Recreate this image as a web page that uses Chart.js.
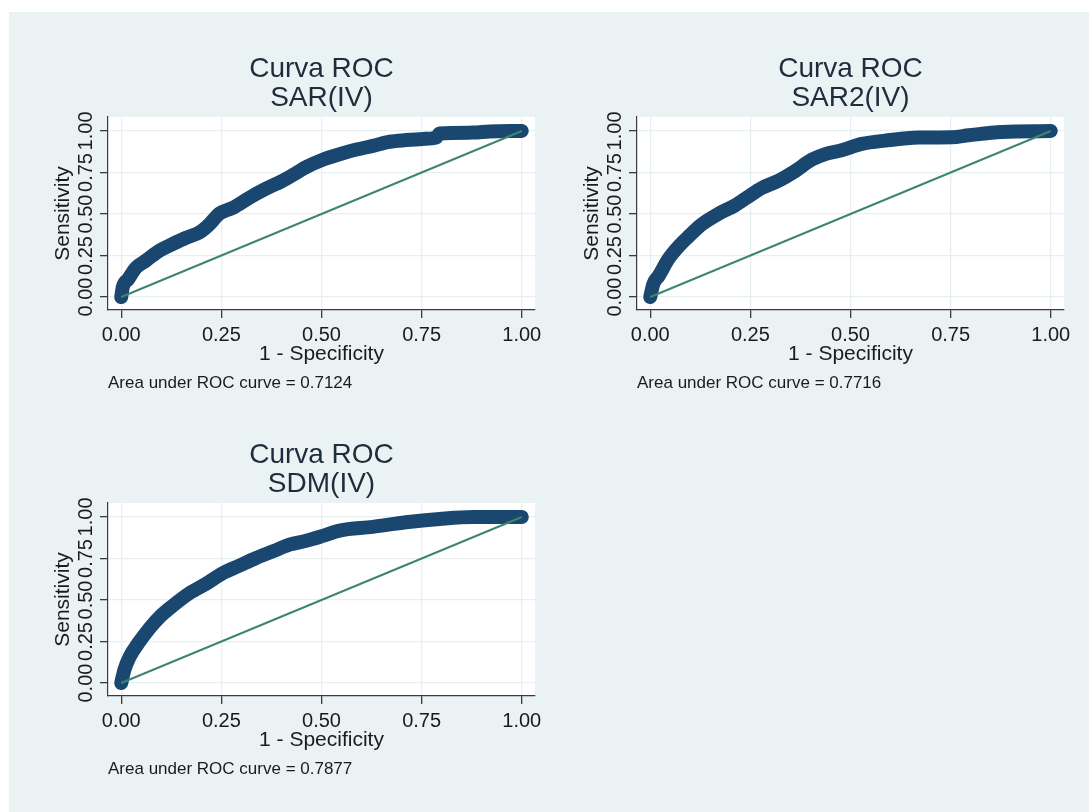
<!DOCTYPE html>
<html>
<head>
<meta charset="utf-8">
<script src="https://cdn.jsdelivr.net/npm/chart.js@4"></script>
<style>
  html, body { margin: 0; padding: 0; background: #fff; }
  body { width: 1089px; height: 812px; position: relative; overflow: hidden; }
  #bg { position: absolute; left: 9px; top: 12px; right: 0; bottom: 0; background: #eaf2f3; }
  .panel { position: absolute; width: 540px; height: 390px; }
</style>
</head>
<body>
<div id="bg"></div>
<div class="panel" style="left:10px; top:12px;"><canvas id="roc-sar"></canvas></div>
<div class="panel" style="left:539px; top:12px;"><canvas id="roc-sar2"></canvas></div>
<div class="panel" style="left:10px; top:398px;"><canvas id="roc-sdm"></canvas></div>
<script>
// Curvas ROC (1 - especificidad, sensibilidad)
const axisTicks = [0, 0.25, 0.5, 0.75, 1];

const sarFpr = [0, 0.004, 0.017, 0.037, 0.062, 0.096, 0.129, 0.162, 0.196, 0.220, 0.245, 0.279, 0.320, 0.362, 0.403, 0.437, 0.462, 0.503, 0.545, 0.587, 0.628, 0.670, 0.711, 0.753, 0.786, 0.795, 0.878, 0.919, 1];
const sarTpr = [0, 0.06, 0.106, 0.177, 0.22, 0.28, 0.32, 0.357, 0.39, 0.438, 0.502, 0.538, 0.598, 0.653, 0.70, 0.747, 0.783, 0.827, 0.86, 0.888, 0.91, 0.935, 0.945, 0.952, 0.96, 0.985, 0.99, 0.997, 1];

const sar2Fpr = [0, 0.008, 0.021, 0.046, 0.071, 0.096, 0.129, 0.171, 0.212, 0.245, 0.279, 0.320, 0.362, 0.403, 0.437, 0.478, 0.528, 0.587, 0.670, 0.753, 0.795, 0.878, 1];
const sar2Tpr = [0, 0.08, 0.127, 0.231, 0.305, 0.365, 0.438, 0.502, 0.552, 0.605, 0.657, 0.70, 0.759, 0.827, 0.861, 0.884, 0.922, 0.942, 0.96, 0.962, 0.974, 0.994, 1];

const sdmFpr = [0, 0.008, 0.021, 0.046, 0.071, 0.096, 0.129, 0.171, 0.212, 0.254, 0.295, 0.337, 0.379, 0.420, 0.462, 0.503, 0.545, 0.628, 0.711, 0.795, 0.878, 1];
const sdmTpr = [0, 0.08, 0.157, 0.251, 0.331, 0.398, 0.466, 0.542, 0.598, 0.662, 0.707, 0.753, 0.793, 0.833, 0.857, 0.886, 0.918, 0.94, 0.968, 0.988, 1.0, 1];

const diagX = [0, 1];
const diagY = [0, 1];

const NAVY = "#1a476f";
const GREEN = "#3e8570";
const GRID = "#e6eff1";
const AXIS = "#3a3a3a";
const TEXT = "#1b1b1b";
const FONT = "'Liberation Sans', Arial, sans-serif";

// fondo blanco solo dentro del área de trazado
const plotBg = {
    id: "plotBg",
    beforeDraw(chart) {
        const a = chart.chartArea;
        const ctx = chart.ctx;
        ctx.save();
        ctx.fillStyle = "#ffffff";
        ctx.fillRect(a.left, a.top, a.right - a.left, a.bottom - a.top);
        ctx.restore();
    },
};

function makeRoc(id, name, fpr, tpr, auc) {
    const curve = fpr.map((x, i) => ({ x: x, y: tpr[i] }));
    const diag = diagX.map((x, i) => ({ x: x, y: diagY[i] }));
    const setTicks = (scale) => { scale.ticks = axisTicks.map((v) => ({ value: v })); };

    new Chart(document.getElementById(id), {
        type: "scatter",
        data: {
            datasets: [
                {
                    data: diag,
                    showLine: true,
                    borderColor: GREEN,
                    borderWidth: 2,
                    pointRadius: 0,
                    order: 0,
                },
                {
                    data: curve,
                    showLine: true,
                    borderColor: NAVY,
                    backgroundColor: NAVY,
                    borderWidth: 14,
                    borderCapStyle: "round",
                    borderJoinStyle: "round",
                    cubicInterpolationMode: "monotone",
                    pointRadius: 0,
                    order: 1,
                },
            ],
        },
        options: {
            responsive: true,
            maintainAspectRatio: false,
            animation: false,
            layout: { padding: { top: 30, left: 0, right: 15, bottom: 8.8 } },
            plugins: {
                legend: { display: false },
                tooltip: { enabled: false },
                title: {
                    display: true,
                    text: ["Curva ROC", name],
                    fullSize: false,
                    color: "#1e2c3c",
                    font: { family: FONT, size: 28, weight: "normal", lineHeight: 1.06 },
                    padding: { top: 12, bottom: 3.64 },
                },
                subtitle: {
                    display: true,
                    position: "bottom",
                    align: "start",
                    fullSize: false,
                    text: "Area under ROC curve = " + auc,
                    color: TEXT,
                    font: { family: FONT, size: 17, weight: "normal", lineHeight: 1.2 },
                    padding: { top: 6, bottom: 0 },
                },
            },
            scales: {
                x: {
                    type: "linear",
                    min: -0.033,
                    max: 1.033,
                    afterBuildTicks: setTicks,
                    afterFit: (s) => { s.height = 56.8; },
                    border: { display: true, color: AXIS, width: 1.2 },
                    grid: { color: GRID, lineWidth: 1.3, tickColor: AXIS, tickLength: 8, drawTicks: true },
                    ticks: {
                        color: TEXT,
                        padding: 5.5,
                        maxRotation: 0,
                        autoSkip: false,
                        font: { family: FONT, size: 20 },
                        callback: (v) => Number(v).toFixed(2),
                    },
                    title: {
                        display: true,
                        text: "1 - Specificity",
                        color: TEXT,
                        font: { family: FONT, size: 21, lineHeight: 1.2 },
                        padding: { top: 0, bottom: 0 },
                    },
                },
                y: {
                    type: "linear",
                    min: -0.078,
                    max: 1.084,
                    afterBuildTicks: setTicks,
                    afterFit: (s) => { s.width = 98; },
                    border: { display: true, color: AXIS, width: 1.2 },
                    grid: { color: GRID, lineWidth: 1.3, tickColor: AXIS, tickLength: 8, drawTicks: true },
                    ticks: {
                        color: TEXT,
                        padding: -6,
                        minRotation: 90,
                        maxRotation: 90,
                        crossAlign: "center",
                        autoSkip: false,
                        font: { family: FONT, size: 20 },
                        callback: (v) => Number(v).toFixed(2),
                    },
                    title: {
                        display: true,
                        text: "Sensitivity",
                        color: TEXT,
                        font: { family: FONT, size: 21, lineHeight: 1.2 },
                        padding: { top: 40.4, bottom: 0 },
                    },
                },
            },
        },
        plugins: [plotBg],
    });
}

makeRoc("roc-sar", "SAR(IV)", sarFpr, sarTpr, "0.7124");
makeRoc("roc-sar2", "SAR2(IV)", sar2Fpr, sar2Tpr, "0.7716");
makeRoc("roc-sdm", "SDM(IV)", sdmFpr, sdmTpr, "0.7877");
</script>
</body>
</html>
